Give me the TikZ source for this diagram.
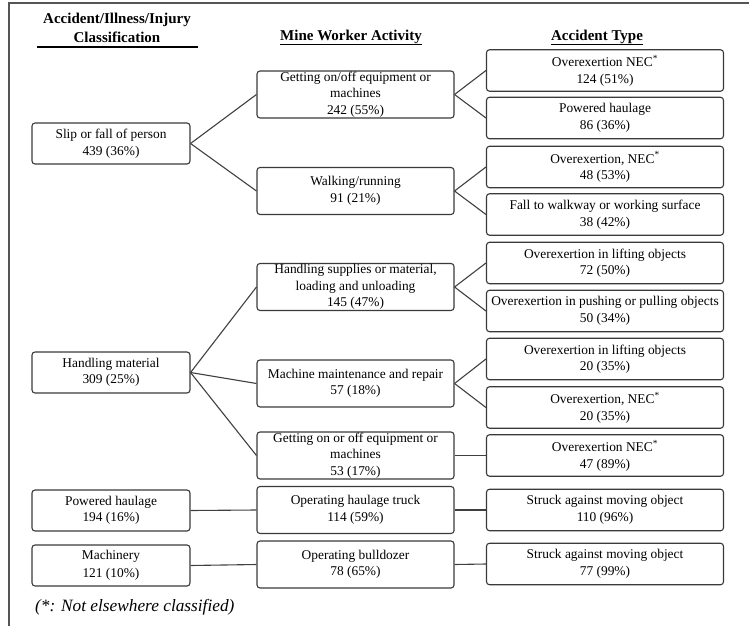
\documentclass[tikz,border=0pt]{standalone}
\usepackage{fontspec}
\setmainfont{Liberation Serif}
\definecolor{boxc}{HTML}{3A3A3A}
\definecolor{linec}{HTML}{404040}
\definecolor{framec}{HTML}{555555}
\begin{document}
\begin{tikzpicture}[x=1pt,y=-1pt,
  box/.style={draw=boxc, line width=1.1pt, rounded corners=3pt, fill=white, align=center, inner sep=0pt, font=\fontsize{13.4}{16.5}\selectfont},
  colA/.style={box, minimum width=158pt, minimum height=41pt},
  colB/.style={box, minimum width=197pt, minimum height=47pt},
  colC/.style={box, minimum width=237pt, minimum height=41.5pt},
  link/.style={draw=linec, line width=1.1pt},
  hdr/.style={font=\bfseries\fontsize{15}{16}\selectfont, align=center, inner sep=0pt},
  uline/.style={draw=black, line width=1.2pt},
  framel/.style={draw=framec, line width=1.3pt}
]
\useasboundingbox (0,0) rectangle (749,626);
% frame
\draw[framel] (749,3) -- (9,3) -- (9,626);

% headers
\node[hdr] (h1a) at (117,20) {Accident/Illness/Injury};
\node[hdr] (h1b) at (117,37) {Classification};
\coordinate (u1l) at (37,47);
\coordinate (u1r) at (198,47);
\draw[uline] (u1l) -- (u1r);
\node[hdr, anchor=base] (h2) at (351,41) {Mine Worker Activity};
\draw[uline] ([yshift=-3.5pt]h2.base west) -- ([yshift=-3.5pt]h2.base east);
\node[hdr, anchor=base] (h3) at (597,41) {Accident Type};
\draw[uline] ([yshift=-3.5pt]h3.base west) -- ([yshift=-3.5pt]h3.base east);

% column 1
\node[colA] (slip) at (111,143.5) {Slip or fall of person\\439 (36\%)};
\node[colA] (handm) at (111,372.5) {Handling material\\309 (25\%)};
\node[colA] (powh) at (111,510.5) {Powered haulage\\194 (16\%)};
\node[colA] (mach) at (111,565.5) {Machinery\\[2pt]121 (10\%)};

% column 2
\node[colB] (geton) at (355.5,94.5) {Getting on/off equipment or\\machines\\242 (55\%)};
\node[colB] (walk) at (355.5,191) {Walking/running\\91 (21\%)};
\node[colB] (hsup) at (355.5,287) {Handling supplies or material,\\loading and unloading\\145 (47\%)};
\node[colB] (mmr) at (355.5,383.5) {Machine maintenance and repair\\57 (18\%)};
\node[colB] (getonb) at (355.5,455.5) {Getting on or off equipment or\\machines\\53 (17\%)};
\node[colB] (oht) at (355.5,510) {Operating haulage truck\\114 (59\%)};
\node[colB] (obd) at (355.5,564.5) {Operating bulldozer\\78 (65\%)};

% column 3
\node[colC] (a1) at (605,70.5) {Overexertion NEC\textsuperscript{*}\\124 (51\%)};
\node[colC] (a2) at (605,118) {Powered haulage\\86 (36\%)};
\node[colC] (a3) at (605,167) {Overexertion, NEC\textsuperscript{*}\\48 (53\%)};
\node[colC] (a4) at (605,214.5) {Fall to walkway or working surface\\38 (42\%)};
\node[colC] (a5) at (605,263) {Overexertion in lifting objects\\72 (50\%)};
\node[colC] (a6) at (605,311) {Overexertion in pushing or pulling objects\\50 (34\%)};
\node[colC] (a7) at (605,359) {Overexertion in lifting objects\\20 (35\%)};
\node[colC] (a8) at (605,407.5) {Overexertion, NEC\textsuperscript{*}\\20 (35\%)};
\node[colC] (a9) at (605,455.5) {Overexertion NEC\textsuperscript{*}\\47 (89\%)};
\node[colC] (a10) at (605,510) {Struck against moving object\\110 (96\%)};
\node[colC] (a11) at (605,564) {Struck against moving object\\77 (99\%)};

% connectors
\draw[link] (slip.east) -- (geton.west);
\draw[link] (slip.east) -- (walk.west);
\draw[link] (geton.east) -- (a1.west);
\draw[link] (geton.east) -- (a2.west);
\draw[link] (walk.east) -- (a3.west);
\draw[link] (walk.east) -- (a4.west);
\draw[link] (handm.east) -- (hsup.west);
\draw[link] (handm.east) -- (mmr.west);
\draw[link] (handm.east) -- (getonb.west);
\draw[link] (hsup.east) -- (a5.west);
\draw[link] (hsup.east) -- (a6.west);
\draw[link] (mmr.east) -- (a7.west);
\draw[link] (mmr.east) -- (a8.west);
\draw[link] (getonb.east) -- (a9.west);
\draw[link] (powh.east) -- (oht.west);
\draw[link] (oht.east) -- (a10.west);
\draw[link] (mach.east) -- (obd.west);
\draw[link] (obd.east) -- (a11.west);

% footnote
\node[font=\itshape\fontsize{17.3}{19}\selectfont, anchor=west, inner sep=0pt] (fn) at (35,607) {(*: Not elsewhere classified)};
\end{tikzpicture}
\end{document}
